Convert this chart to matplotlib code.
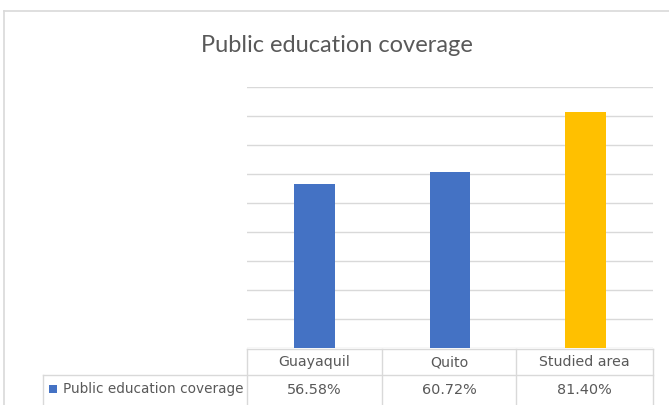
import matplotlib
matplotlib.use("Agg")
import matplotlib.pyplot as plt
from matplotlib.lines import Line2D
from matplotlib.patches import Rectangle
import numpy as np

categories = ["Guayaquil", "Quito", "Studied area"]
values = [0.5658, 0.6072, 0.8140]
value_labels = ["56.58%", "60.72%", "81.40%"]
series_name = "Public education coverage"
title = "Public education coverage"

BLUE = "#4472C4"
GOLD = "#FFC000"
GRID = "#D9D9D9"
TXT = "#595959"

W, H = 669, 405
fig = plt.figure(figsize=(W / 100, H / 100), dpi=100)


def fx(x):
    return x / W


def fy(y):
    return 1 - y / H


def hline(x0, x1, y, lw=1):
    fig.add_artist(Line2D([fx(x0), fx(x1)], [fy(y), fy(y)], color=GRID, lw=lw))


def vline(x, y0, y1, lw=1):
    fig.add_artist(Line2D([fx(x), fx(x)], [fy(y0), fy(y1)], color=GRID, lw=lw))


# outer chart frame (only top and left edges are inside the crop)
hline(4, 700, 10.5, lw=1.2)
vline(4, 10.5, 420, lw=1.2)

# plot area
ax = fig.add_axes([fx(247), fy(348), fx(653) - fx(247), fy(87) - fy(348)])
colors = [BLUE, BLUE, GOLD]
ax.bar(np.arange(len(categories)), values, width=0.30, color=colors, zorder=3)
ax.set_xlim(-0.5, len(categories) - 0.5)
ax.set_ylim(0, 0.9)
ax.set_yticks(np.arange(0, 0.91, 0.1))
ax.yaxis.grid(True, color=GRID, lw=1)
ax.tick_params(left=False, bottom=False, labelleft=False, labelbottom=False)
for s in ax.spines.values():
    s.set_visible(False)

fig.text(fx(337), fy(46), title, ha="center", va="center",
         fontsize=17, color=TXT, family="Lato")

# data table under the chart
col_edges = [247, 382, 516, 653]
hline(247, 653, 349)
hline(43, 653, 375)
for x in col_edges:
    vline(x, 349, 410)
vline(43, 375, 410)

for i, cat in enumerate(categories):
    cx = (col_edges[i] + col_edges[i + 1]) / 2
    fig.text(fx(cx), fy(362), cat, ha="center", va="center",
             fontsize=10.2, color=TXT, family="DejaVu Sans")
    fig.text(fx(cx), fy(389.5), value_labels[i], ha="center", va="center",
             fontsize=10.4, color=TXT, family="DejaVu Sans")

fig.add_artist(Rectangle((fx(49), fy(393)), fx(57) - fx(49), fy(385) - fy(393),
                         color=BLUE, lw=0))
fig.text(fx(63), fy(389.5), series_name, ha="left", va="center",
         fontsize=9.8, color=TXT, family="DejaVu Sans")

fig.savefig("out.png", dpi=100)
